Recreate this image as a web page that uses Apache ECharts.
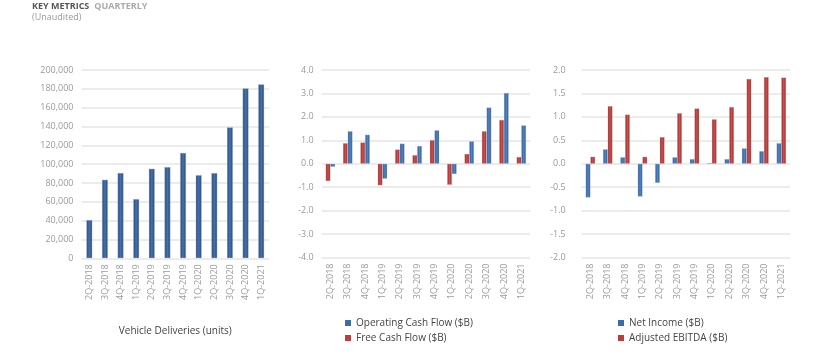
<!DOCTYPE html>
<html><head><meta charset="utf-8">
<script src="https://cdn.jsdelivr.net/npm/echarts@6/dist/echarts.min.js"></script>
<style>html,body{margin:0;padding:0;background:#fff}#c{width:820px;height:361px}</style>
</head><body><div id="c"></div>
<script>
const categories = ['2Q-2018','3Q-2018','4Q-2018','1Q-2019','2Q-2019','3Q-2019','4Q-2019','1Q-2020','2Q-2020','3Q-2020','4Q-2020','1Q-2021'];
const deliveries = [40740, 83500, 90700, 63000, 95200, 97000, 112000, 88400, 90650, 139300, 180570, 184800];
const operatingCashFlow = [-0.13, 1.39, 1.24, -0.64, 0.86, 0.76, 1.43, -0.44, 0.96, 2.40, 3.02, 1.64];
const freeCashFlow = [-0.74, 0.88, 0.91, -0.92, 0.61, 0.37, 1.01, -0.90, 0.42, 1.39, 1.87, 0.29];
const netIncome = [-0.72, 0.31, 0.14, -0.70, -0.41, 0.14, 0.10, 0.02, 0.10, 0.33, 0.27, 0.44];
const adjustedEbitda = [0.15, 1.23, 1.05, 0.15, 0.57, 1.08, 1.18, 0.95, 1.21, 1.81, 1.85, 1.84];

const FONT = 'Open Sans';
const BLUE = '#3a6cae', RED = '#bf3b3c';
function grad(edge, mid) {
  return new echarts.graphic.LinearGradient(0, 0, 1, 0, [
    {offset: 0, color: edge}, {offset: 0.5, color: mid}, {offset: 1, color: edge}
  ]);
}
const navy = grad('#27446f', '#4472b0');
const blue = grad('#2b5288', '#4f86c6');
const red = grad('#8c2626', '#cf5050');
const splitLine = {show: true, lineStyle: {color: '#e6e6e6', width: 1.5}};
const yLabel = {color: '#9a9a9a', fontSize: 9, fontFamily: FONT};
function xAxis(i, extra) {
  return Object.assign({
    type: 'category', gridIndex: i, data: categories,
    axisLine: {show: false}, axisTick: {show: false},
    axisLabel: {rotate: 90, interval: 0, color: '#9a9a9a', fontSize: 9, fontFamily: FONT, margin: 6}
  }, extra || {});
}
function legendItem(name, color) {
  return {name: name, itemStyle: {color: color, borderWidth: 0}};
}
const chart = echarts.init(document.getElementById('c'), null, {renderer: 'canvas'});
chart.setOption({
  animation: false,
  backgroundColor: '#fff',
  title: [{
    text: '{a|KEY METRICS} {b|QUARTERLY}',
    left: 32, top: 2, padding: 0,
    textStyle: {lineHeight: 9, rich: {
      a: {color: '#555', fontSize: 9, lineHeight: 9, fontFamily: FONT, fontWeight: 'bold'},
      b: {color: '#aaa', fontSize: 9, lineHeight: 9, fontFamily: FONT}
    }}
  }, {
    text: '(Unaudited)', left: 32, top: 12, padding: 0,
    textStyle: {color: '#999', fontSize: 9, lineHeight: 10, fontFamily: FONT, fontWeight: 'normal'}
  }],
  grid: [
    {left: 81.5, width: 187.5, top: 70, height: 188.3},
    {left: 321.7, width: 208.3, top: 70, height: 187.5},
    {left: 581.7, width: 208.3, top: 70, height: 187.5}
  ],
  legend: [{
    orient: 'vertical', left: 340, top: 313, itemWidth: 6, itemHeight: 6, itemGap: 5,
    icon: 'rect',
    data: [legendItem('Operating Cash Flow ($B)', BLUE), legendItem('Free Cash Flow ($B)', RED)],
    textStyle: {color: '#444', fontSize: 10, fontFamily: FONT}
  }, {
    orient: 'vertical', left: 613, top: 313, itemWidth: 6, itemHeight: 6, itemGap: 5,
    icon: 'rect',
    data: [legendItem('Net Income ($B)', BLUE), legendItem('Adjusted EBITDA ($B)', RED)],
    textStyle: {color: '#444', fontSize: 10, fontFamily: FONT}
  }],
  xAxis: [
    xAxis(0, {name: 'Vehicle Deliveries (units)', nameLocation: 'middle', nameGap: 68,
      nameTextStyle: {color: '#444', fontSize: 10, fontFamily: FONT}}),
    xAxis(1), xAxis(2)
  ],
  yAxis: [
    {type: 'value', gridIndex: 0, min: 0, max: 200000, interval: 20000, splitLine: splitLine,
      axisLine: {show: false}, axisTick: {show: false},
      axisLabel: Object.assign({margin: 8, formatter: v => v.toLocaleString('en-US')}, yLabel)},
    {type: 'value', gridIndex: 1, min: -4, max: 4, interval: 1, splitLine: splitLine,
      axisLine: {show: false}, axisTick: {show: false},
      axisLabel: Object.assign({margin: 8, formatter: v => v.toFixed(1)}, yLabel)},
    {type: 'value', gridIndex: 2, min: -2, max: 2, interval: 0.5, splitLine: splitLine,
      axisLine: {show: false}, axisTick: {show: false},
      axisLabel: Object.assign({margin: 16, formatter: v => v.toFixed(1)}, yLabel)}
  ],
  series: [
    {name: 'Vehicle Deliveries', type: 'bar', xAxisIndex: 0, yAxisIndex: 0, data: deliveries,
      barWidth: 6, itemStyle: {color: navy, borderColor: 'rgba(200,215,235,0.8)', borderWidth: 0.5}},
    {name: 'Free Cash Flow ($B)', type: 'bar', xAxisIndex: 1, yAxisIndex: 1, data: freeCashFlow,
      barWidth: 4.7, barGap: '0%',
      itemStyle: {color: red, borderColor: 'rgba(240,200,200,0.7)', borderWidth: 0.4}},
    {name: 'Operating Cash Flow ($B)', type: 'bar', xAxisIndex: 1, yAxisIndex: 1, data: operatingCashFlow,
      barWidth: 4.7, barGap: '0%',
      itemStyle: {color: blue, borderColor: 'rgba(200,215,235,0.8)', borderWidth: 0.4}},
    {name: 'Net Income ($B)', type: 'bar', xAxisIndex: 2, yAxisIndex: 2, data: netIncome,
      barWidth: 4.7, barGap: '0%',
      itemStyle: {color: blue, borderColor: 'rgba(200,215,235,0.8)', borderWidth: 0.4}},
    {name: 'Adjusted EBITDA ($B)', type: 'bar', xAxisIndex: 2, yAxisIndex: 2, data: adjustedEbitda,
      barWidth: 4.7, barGap: '0%',
      itemStyle: {color: red, borderColor: 'rgba(240,200,200,0.7)', borderWidth: 0.4}}
  ]
});
</script></body></html>
